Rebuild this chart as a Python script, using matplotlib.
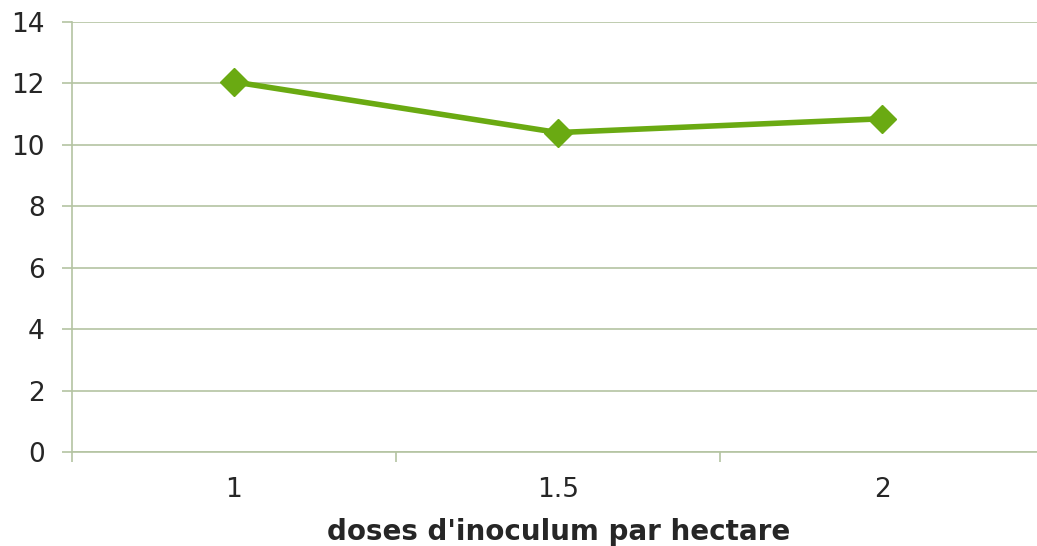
import matplotlib
matplotlib.use("Agg")
import matplotlib.pyplot as plt
from matplotlib.ticker import FixedLocator

# dose categories and measured values
doses = ["1", "1.5", "2"]
values = [12.05, 10.4, 10.85]

grid_color = "#b4c4a2"
line_color = "#6aaa12"
text_color = "#262626"

fig = plt.figure(figsize=(10.37, 5.46), dpi=100)
W, H = 1037, 546
ax = fig.add_axes([72 / W, (H - 452) / H, (1037 - 72) / W, 430 / H])

x = list(range(1, len(doses) + 1))
ax.plot(x, values, color=line_color, linewidth=4, marker="D", markersize=14,
        markeredgecolor=line_color, solid_joinstyle="miter", zorder=3)

ax.set_xlim(0.5, 0.5 + (1037 - 72) / 324)
ax.set_ylim(0, 14)
ax.set_yticks(range(0, 15, 2))
ax.set_xticks(x)
ax.set_xticklabels(doses)
ax.xaxis.set_minor_locator(FixedLocator([0.5, 1.5, 2.5, 3.5]))

ax.grid(axis="y", color=grid_color, linewidth=1.2)
ax.set_axisbelow(True)
for s in ["top", "right"]:
    ax.spines[s].set_visible(False)
ax.spines["left"].set_color(grid_color)
ax.spines["left"].set_linewidth(1.2)
ax.spines["bottom"].set_color(grid_color)
ax.spines["bottom"].set_linewidth(1.2)

ax.tick_params(axis="y", length=7.5, width=1.2, color=grid_color, labelsize=19,
               labelcolor=text_color, pad=12)
ax.tick_params(axis="x", which="major", length=0, labelsize=19,
               labelcolor=text_color, pad=18)
ax.tick_params(axis="x", which="minor", length=7.5, width=1.2, color=grid_color)

ax.set_xlabel("doses d'inoculum par hectare", fontsize=20, fontweight="bold",
              color=text_color)
ax.xaxis.set_label_coords((559 - 72) / (1037 - 72), -0.153)

fig.savefig("out.png", dpi=100)
